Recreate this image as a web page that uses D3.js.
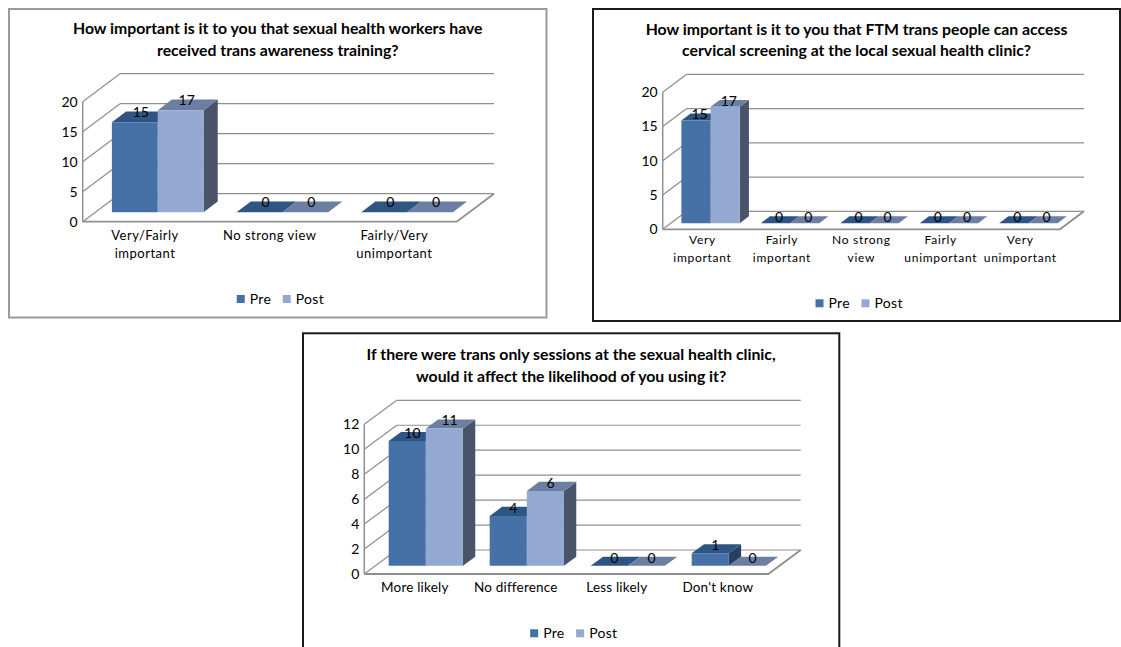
<!DOCTYPE html>
<html>
<head>
<meta charset="utf-8">
<script src="https://cdn.jsdelivr.net/npm/d3@7"></script>
<style>
  html, body { margin: 0; padding: 0; background: #fff; }
  svg { display: block; font-family: Lato, "Open Sans", sans-serif; }
</style>
</head>
<body>
<svg id="chart" width="1121" height="647"></svg>
<script>
// series shared by all three charts
const series = ["Pre", "Post"];

// chart 1: trans awareness training
const trainingTitle = ["How important is it to you that sexual health workers have", "received trans awareness training?"];
const trainingCategories = ["Very/Fairly\nimportant", "No strong view", "Fairly/Very\nunimportant"];
const trainingPre = [15, 0, 0];
const trainingPost = [17, 0, 0];

// chart 2: cervical screening
const cervicalTitle = ["How important is it to you that FTM trans people can access", "cervical screening at the local sexual health clinic?"];
const cervicalCategories = ["Very\nimportant", "Fairly\nimportant", "No strong\nview", "Fairly\nunimportant", "Very\nunimportant"];
const cervicalPre = [15, 0, 0, 0, 0];
const cervicalPost = [17, 0, 0, 0, 0];

// chart 3: trans only sessions
const sessionsTitle = ["If there were trans only sessions at the sexual health clinic,", "would it affect the likelihood of you using it?"];
const sessionsCategories = ["More likely", "No difference", "Less likely", "Don't know"];
const sessionsPre = [10, 4, 0, 1];
const sessionsPost = [11, 6, 0, 0];

const colors = {
  Pre:  { front: "#4571a7", top: "#2f5584", side: "#28405f" },
  Post: { front: "#94a9d1", top: "#6c7fa2", side: "#4a5468" }
};
const gridColor = "#8f8f8f";

const svg = d3.select("#chart");

function drawChart(cfg) {
  const g = svg.append("g");
  const { box, fx, fxR, y0, yTop, DX, DY, max, step } = cfg;
  const cx = (box[0] + box[2]) / 2;

  // frame
  g.append("rect")
    .attr("x", box[0]).attr("y", box[1])
    .attr("width", box[2] - box[0]).attr("height", box[3] - box[1])
    .attr("fill", "#fff").attr("stroke", cfg.border).attr("stroke-width", 2);

  // title
  g.selectAll(".title").data(cfg.title).join("text")
    .attr("x", cx).attr("y", (d, i) => cfg.titleY[i])
    .attr("dy", "0.35em").attr("text-anchor", "middle")
    .attr("font-size", 15.8).attr("font-weight", "bold").attr("fill", "#000")
    .text(d => d);

  const y = d3.scaleLinear().domain([0, max]).range([y0, yTop]);
  const x = d3.scaleBand().domain(d3.range(cfg.categories.length)).range([fx, fxR]);
  const sub = d3.scaleBand().domain(series).range([0, x.bandwidth()]).paddingInner(0).paddingOuter(0.36);
  const P = (px, v, z) => [px + z * DX, y(v) - z * DY];
  const ticks = d3.range(0, max + step / 2, step);

  // back wall gridlines and left wall diagonals
  ticks.forEach(t => {
    g.append("line")
      .attr("x1", fx + DX).attr("x2", fxR + DX)
      .attr("y1", y(t) - DY).attr("y2", y(t) - DY)
      .attr("stroke", gridColor).attr("stroke-width", 1.2);
    g.append("line")
      .attr("x1", fx).attr("y1", y(t))
      .attr("x2", fx + DX).attr("y2", y(t) - DY)
      .attr("stroke", gridColor).attr("stroke-width", 1.2);
  });
  g.append("line")
    .attr("x1", fx).attr("x2", fx).attr("y1", y(0)).attr("y2", y(max))
    .attr("stroke", gridColor).attr("stroke-width", 1.5);

  // floor
  g.append("path")
    .attr("d", d3.line()([[fx, y(0)], [fxR, y(0)], [fxR + DX, y(0) - DY]]))
    .attr("fill", "none").attr("stroke", gridColor).attr("stroke-width", 1.8);

  // value axis labels
  g.selectAll(".tick").data(ticks).join("text")
    .attr("x", fx - 5).attr("y", d => y(d)).attr("dy", "0.35em")
    .attr("text-anchor", "end").attr("font-size", 14).attr("fill", "#000")
    .text(d => d);

  // bars
  const z0 = 0.34, z1 = 0.72;
  const labels = [];
  cfg.categories.forEach((c, i) => {
    series.forEach(s => {
      const v = cfg.values[s][i];
      const x0 = x(i) + sub(s), w = sub.bandwidth();
      const col = colors[s];
      const side = [P(x0 + w, 0, z0), P(x0 + w, 0, z1), P(x0 + w, v, z1), P(x0 + w, v, z0)];
      const top = [P(x0, v, z0), P(x0 + w, v, z0), P(x0 + w, v, z1), P(x0, v, z1)];
      const front = [P(x0, 0, z0), P(x0 + w, 0, z0), P(x0 + w, v, z0), P(x0, v, z0)];
      if (v > 0) g.append("path").attr("d", d3.line()(side) + "Z").attr("fill", col.side);
      g.append("path").attr("d", d3.line()(top) + "Z").attr("fill", col.top);
      if (v > 0) g.append("path").attr("d", d3.line()(front) + "Z").attr("fill", col.front);
      labels.push({ v, x: P(x0 + w / 2, v, (z0 + z1) / 2)[0] - 1, y: P(x0, v, z1)[1] + 1 });
    });
  });

  g.selectAll(".val").data(labels).join("text")
    .attr("x", d => d.x).attr("y", d => d.y).attr("dy", "0.35em")
    .attr("text-anchor", "middle").attr("font-size", 14).attr("fill", "#000")
    .text(d => d.v);

  // category labels
  cfg.categories.forEach((c, i) => {
    const t = g.append("text")
      .attr("text-anchor", "middle").attr("font-size", cfg.catSize)
      .attr("letter-spacing", cfg.catSpacing).attr("fill", "#000");
    c.split("\n").forEach((line, k) => {
      t.append("tspan")
        .attr("x", x(i) + x.bandwidth() / 2).attr("y", cfg.catY[k]).attr("dy", "0.35em")
        .text(line);
    });
  });

  // legend
  const lg = g.append("g").attr("transform", `translate(${cx - 41},${cfg.legendY})`);
  series.forEach((s, k) => {
    lg.append("rect").attr("x", k * 46).attr("y", -4).attr("width", 8).attr("height", 8)
      .attr("fill", colors[s].front);
    lg.append("text").attr("x", k * 46 + 13).attr("y", 0).attr("dy", "0.35em")
      .attr("font-size", 14).attr("letter-spacing", 0.3).attr("fill", "#000").text(s);
  });
}

drawChart({
  box: [9, 9, 546.5, 317.5], border: "#9a9a9a",
  title: trainingTitle, titleY: [28, 50],
  categories: trainingCategories, values: { Pre: trainingPre, Post: trainingPost },
  fx: 82.7, fxR: 456.7, y0: 221.7, yTop: 101.7, DX: 37.3, DY: 28, max: 20, step: 5,
  catY: [235, 253], catSize: 13, catSpacing: 0.5, legendY: 299
});

drawChart({
  box: [593, 9, 1120, 321], border: "#1a1a1a",
  title: cervicalTitle, titleY: [29.3, 50.7],
  categories: cervicalCategories, values: { Pre: cervicalPre, Post: cervicalPost },
  fx: 662.7, fxR: 1060, y0: 229.3, yTop: 92.3, DX: 24, DY: 18, max: 20, step: 5,
  catY: [240, 257.3], catSize: 12, catSpacing: 0.7, legendY: 303.3
});

drawChart({
  box: [303, 333.3, 839.3, 660], border: "#1a1a1a",
  title: sessionsTitle, titleY: [354, 376],
  categories: sessionsCategories, values: { Pre: sessionsPre, Post: sessionsPost },
  fx: 364.3, fxR: 768.3, y0: 574, yTop: 424.3, DX: 32.4, DY: 24, max: 12, step: 2,
  catY: [587.3], catSize: 13.5, catSpacing: 0.2, legendY: 633.3
});
</script>
</body>
</html>
